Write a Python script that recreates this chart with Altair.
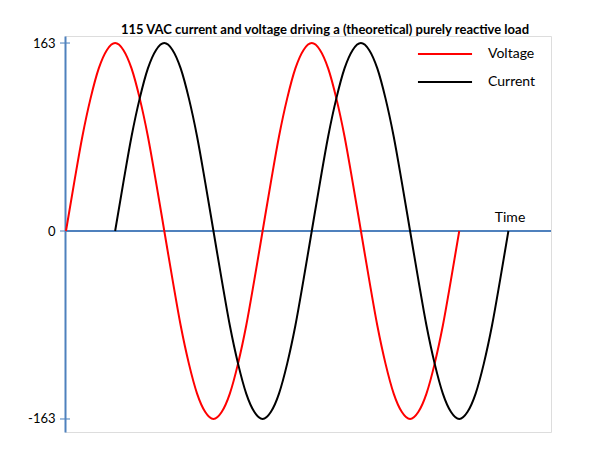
import altair as alt
import pandas as pd

# phase angle (degrees) and values
volt_deg = list(range(0, 721, 15))
volt_val = [0, 42, 82, 115, 141, 157, 163, 157, 141, 115, 82, 42,
            0, -42, -82, -115, -141, -157, -163, -157, -141, -115, -82, -42,
            0, 42, 82, 115, 141, 157, 163, 157, 141, 115, 82, 42,
            0, -42, -82, -115, -141, -157, -163, -157, -141, -115, -82, -42, 0]
curr_deg = list(range(90, 811, 15))
curr_val = [0, 42, 82, 115, 141, 157, 163, 157, 141, 115, 82, 42,
            0, -42, -82, -115, -141, -157, -163, -157, -141, -115, -82, -42,
            0, 42, 82, 115, 141, 157, 163, 157, 141, 115, 82, 42,
            0, -42, -82, -115, -141, -157, -163, -157, -141, -115, -82, -42, 0]
series_names = ["Voltage", "Current"]
series_colors = ["#FF0000", "#000000"]
y_ticks = [-163, 0, 163]

AX = "#4F81BD"
FONT = "Lato"

df = pd.DataFrame({
    "t": volt_deg + curr_deg,
    "v": volt_val + curr_val,
    "series": ["Voltage"] * len(volt_deg) + ["Current"] * len(curr_deg),
})

x_scale = alt.Scale(domain=[-1.8, 888], nice=False, zero=False)
y_scale = alt.Scale(domain=[-174.3, 169.1], nice=False, zero=False)

lines = alt.Chart(df).mark_line(strokeWidth=2, interpolate="monotone").encode(
    x=alt.X("t:Q", scale=x_scale, axis=None),
    y=alt.Y("v:Q", scale=y_scale,
            axis=alt.Axis(values=y_ticks, title=None, grid=False, domainColor=AX,
                          domainWidth=2, ticks=False, labelFontSize=13,
                          labelColor="black", labelFont=FONT, labelPadding=10,
                          labelExpr="datum.value + ''")),
    color=alt.Color("series:N",
                    scale=alt.Scale(domain=series_names, range=series_colors),
                    legend=alt.Legend(title=None, orient="none", legendX=373, legendY=11,
                                      symbolType="M-5,0H5", symbolSize=117,
                                      symbolStrokeWidth=2, labelFontSize=14,
                                      labelFont=FONT, labelOffset=36, labelColor="black",
                                      rowPadding=14)),
)

zero_df = pd.DataFrame({"v": [0]})
xaxis = alt.Chart(zero_df).mark_rule(color=AX, strokeWidth=2).encode(
    y=alt.Y("v:Q", scale=y_scale)
)

tick_df = pd.DataFrame({"v": y_ticks})
ticks = alt.Chart(tick_df).mark_tick(color=AX, size=10, thickness=1.5, orient="horizontal").encode(
    y=alt.Y("v:Q", scale=y_scale),
    x=alt.value(0),
)

time_df = pd.DataFrame({"t": [813], "v": [11], "label": ["Time"]})
time_txt = alt.Chart(time_df).mark_text(fontSize=14, font=FONT, color="black").encode(
    x=alt.X("t:Q", scale=x_scale),
    y=alt.Y("v:Q", scale=y_scale),
    text="label:N",
)

chart = alt.layer(xaxis, ticks, lines, time_txt).properties(
    width=486, height=396,
    autosize=alt.AutoSizeParams(type="none"),
    padding={"left": 57, "top": 28, "right": 41, "bottom": 10},
    title=alt.TitleParams("115 VAC current and voltage driving a (theoretical) purely reactive load",
                          fontSize=13, font=FONT, fontWeight="bold", color="black",
                          dx=17, offset=-1),
).configure_view(stroke=None).configure(background="white")

chart.save("out.html", embed_options={"renderer": "svg", "actions": False})
